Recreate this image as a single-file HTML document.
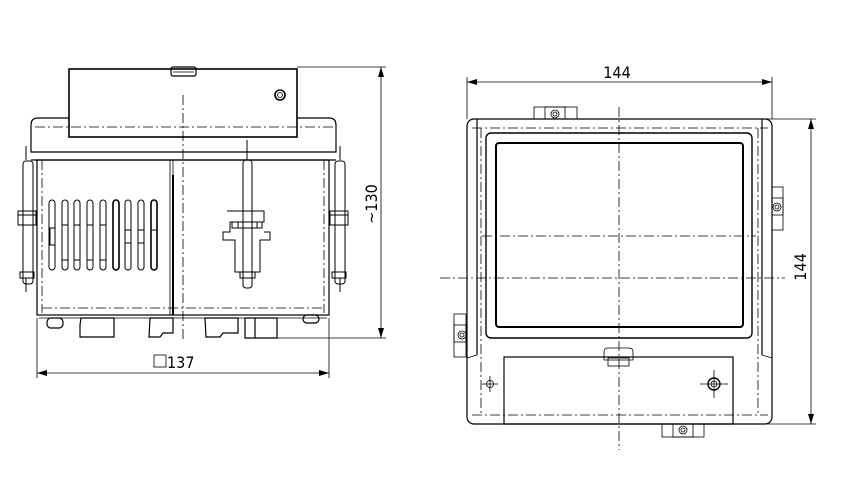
<!DOCTYPE html>
<html><head><meta charset="utf-8"><style>
html,body{margin:0;padding:0;background:#fff;width:842px;height:501px;overflow:hidden}
svg{display:block}
text{font-family:"DejaVu Sans Condensed","Liberation Sans",sans-serif;fill:#000}
</style></head><body>
<svg width="842" height="501" viewBox="0 0 842 501" xmlns="http://www.w3.org/2000/svg" fill="none" stroke="#000" stroke-width="1">
<defs>
<marker id="a" markerWidth="10" markerHeight="6" refX="10" refY="3" orient="auto-start-reverse" markerUnits="userSpaceOnUse"><path d="M0,0 L10,3 L0,6" fill="#000" stroke="none"/></marker>
</defs>
<g stroke-width="0.8">
<!-- LEFT VIEW -->
<rect x="69" y="69" width="228" height="68" stroke-width="1.6"/>
<rect x="171" y="67" width="25" height="9" rx="2" stroke-width="1.2"/>
<line x1="173" y1="72" x2="194" y2="72"/>
<circle cx="280" cy="95" r="5" stroke-width="1.6"/>
<circle cx="280" cy="95" r="2.5"/>
<path d="M69 118 H38 Q31 118 31 125 V152 H336 V125 Q336 118 329 118 H297" stroke-width="1.2"/>
<line x1="31" y1="160" x2="336" y2="160" stroke-width="1.2"/>
<rect x="37" y="160" width="292" height="155" stroke-width="1.2"/>
<line x1="39" y1="318" x2="327" y2="318"/>
<line x1="35" y1="127" x2="333" y2="127" stroke-dasharray="10 3 2 3"/>
<line x1="42" y1="160" x2="42" y2="313" stroke-dasharray="10 3 2 3"/>
<line x1="324" y1="160" x2="324" y2="313" stroke-dasharray="10 3 2 3"/>
<line x1="42" y1="308" x2="324" y2="308" stroke-dasharray="10 3 2 3"/>
<line x1="183" y1="95" x2="183" y2="342" stroke-dasharray="10 3 2 3"/>
<rect x="170" y="160" width="3" height="155"/>
<line x1="173" y1="175" x2="173" y2="315" stroke-width="2"/>
<!-- slots -->
<g stroke-width="1">
<rect x="49" y="200" width="6" height="70" rx="3"/>
<rect x="62" y="200" width="6" height="70" rx="3"/>
<rect x="74" y="200" width="6" height="70" rx="3"/>
<rect x="87" y="200" width="6" height="70" rx="3"/>
<rect x="100" y="200" width="6" height="70" rx="3"/>
<rect x="113" y="200" width="6" height="70" rx="3" stroke-width="1.6"/>
<rect x="125" y="200" width="6" height="70" rx="3"/>
<rect x="138" y="200" width="6" height="70" rx="3"/>
<rect x="151" y="200" width="6" height="70" rx="3" stroke-width="1.6"/>
<rect x="50" y="228" width="5" height="17"/>
<path d="M62 225H68M62 260H68M74 225H80M74 260H80M87 225H93M87 260H93M100 225H106M100 260H106M125 230H131M125 243H131M138 230H144M138 243H144M151 230H157"/>
</g>
<!-- side pins -->
<g stroke-width="1">
<rect x="23" y="161" width="10" height="123" rx="3"/>
<rect x="18" y="211" width="18" height="14"/>
<line x1="18" y1="215" x2="36" y2="215"/>
<rect x="20" y="272" width="14" height="6"/>
<line x1="26" y1="278" x2="26" y2="292"/>
<line x1="26" y1="146" x2="26" y2="160"/>
<rect x="335" y="161" width="10" height="123" rx="3"/>
<rect x="330" y="211" width="18" height="14"/>
<line x1="330" y1="215" x2="348" y2="215"/>
<rect x="332" y="272" width="14" height="6"/>
<line x1="340" y1="278" x2="340" y2="292"/>
<line x1="340" y1="146" x2="340" y2="160"/>
<!-- middle pin -->
<rect x="243" y="160" width="9" height="128" rx="3"/>
<line x1="247" y1="140" x2="247" y2="160"/>
<path d="M227 211H264V222H257V228H238V222H230V232H223V240H235V272H260V240H270V232H264"/>
<rect x="232" y="222" width="30" height="6"/>
<rect x="240" y="272" width="15" height="6"/>
</g>
<!-- feet -->
<g stroke-width="1.2">
<rect x="47" y="318" width="16" height="10" rx="4"/>
<path d="M81 318H114V337H80V325Z"/>
<path d="M150 318H173V333H163L160 337H149Z"/>
<path d="M205 318H238V333H223L220 337H206Z"/>
<path d="M245 318H277V338H245Z"/>
<line x1="255" y1="318" x2="255" y2="338"/>
<rect x="303" y="315" width="16" height="8" rx="4"/>
</g>
<!-- dims left -->
<line x1="297" y1="67" x2="386" y2="67"/>
<line x1="277" y1="338" x2="386" y2="338"/>
<line x1="381" y1="67" x2="381" y2="338" marker-start="url(#a)" marker-end="url(#a)"/>
<line x1="37" y1="318" x2="37" y2="378"/>
<line x1="329" y1="318" x2="329" y2="378"/>
<line x1="37" y1="373" x2="329" y2="373" marker-start="url(#a)" marker-end="url(#a)"/>
<rect x="154" y="355" width="12" height="12"/>
<!-- RIGHT VIEW -->
<line x1="467" y1="77" x2="467" y2="119"/>
<line x1="772" y1="77" x2="772" y2="119"/>
<line x1="467" y1="82" x2="772" y2="82" marker-start="url(#a)" marker-end="url(#a)"/>
<rect x="467" y="119" width="305" height="305" rx="7" stroke-width="1.2"/>
<line x1="477" y1="119" x2="477" y2="355" stroke-width="1.2"/>
<line x1="762" y1="119" x2="762" y2="355" stroke-width="1.2"/>
<line x1="467" y1="358" x2="477" y2="355"/>
<line x1="772" y1="358" x2="762" y2="355"/>
<rect x="486" y="133" width="266" height="205" rx="5" stroke-width="1.4"/>
<rect x="496" y="143" width="247" height="184" rx="3" stroke-width="2"/>
<rect x="504" y="357" width="229" height="67" stroke-width="1.2"/>
<path d="M604 352Q604 348 608 348H629Q633 348 633 352V360H604Z"/>
<rect x="608" y="358" width="21" height="8"/>
<line x1="619" y1="107" x2="619" y2="450" stroke-dasharray="10 3 2 3"/>
<line x1="482" y1="236" x2="756" y2="236" stroke-dasharray="10 3 2 3"/>
<line x1="440" y1="278" x2="785" y2="278" stroke-dasharray="10 3 2 3"/>
<line x1="472" y1="128" x2="768" y2="128" stroke-dasharray="10 3 2 3"/>
<line x1="472" y1="415" x2="768" y2="415" stroke-dasharray="10 3 2 3"/>
<line x1="481" y1="128" x2="481" y2="415" stroke-dasharray="10 3 2 3"/>
<line x1="758" y1="128" x2="758" y2="415" stroke-dasharray="10 3 2 3"/>
<!-- clips -->
<rect x="534" y="107" width="43" height="12"/><rect x="545" y="107" width="20" height="12"/>
<circle cx="555" cy="114" r="4"/><circle cx="555" cy="114" r="2"/>
<rect x="772" y="187" width="11" height="43"/><rect x="772" y="198" width="11" height="17"/>
<circle cx="777" cy="207" r="4"/><circle cx="777" cy="207" r="2"/>
<rect x="454" y="314" width="12" height="43"/><rect x="454" y="325" width="12" height="17"/>
<circle cx="462" cy="335" r="4"/><circle cx="462" cy="335" r="2"/>
<rect x="662" y="424" width="42" height="13"/><rect x="673" y="424" width="20" height="13"/>
<circle cx="683" cy="430" r="4"/><circle cx="683" cy="430" r="2"/>
<circle cx="490" cy="384" r="3.5"/>
<path d="M482 384H498M490 376V392"/>
<circle cx="714" cy="384" r="6" stroke-width="1.4"/><circle cx="714" cy="384" r="3"/>
<path d="M700 384H728M714 370V398"/>
<!-- right dim -->
<line x1="762" y1="119" x2="816" y2="119"/>
<line x1="704" y1="424" x2="816" y2="424"/>
<line x1="811" y1="119" x2="811" y2="424" marker-start="url(#a)" marker-end="url(#a)"/>
</g>
<text x="167" y="368" font-size="16" stroke="none">137</text>
<text x="617" y="78" font-size="16" text-anchor="middle" stroke="none">144</text>
<text transform="translate(377,204) rotate(-90)" font-size="16" text-anchor="middle" stroke="none">~130</text>
<text transform="translate(806,267) rotate(-90)" font-size="16" text-anchor="middle" stroke="none">144</text>
</svg>
</body></html>
